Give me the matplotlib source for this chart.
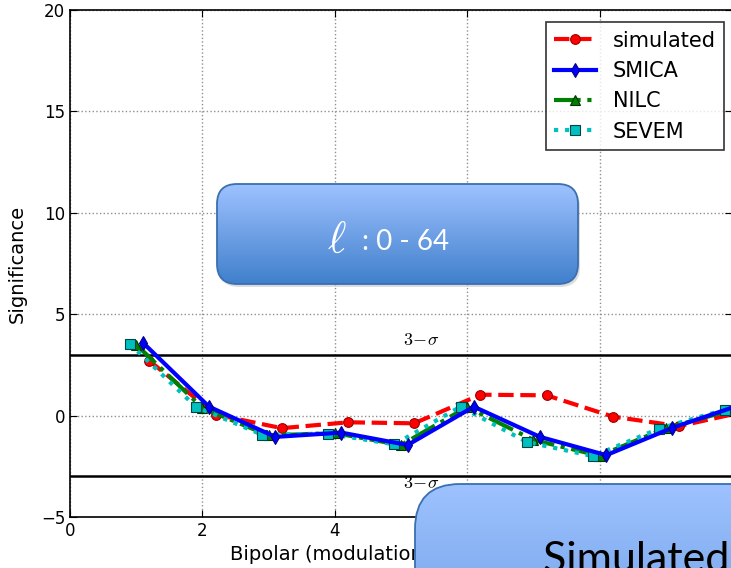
import numpy as np
import matplotlib
matplotlib.use('Agg')
import matplotlib.pyplot as plt
from matplotlib.patches import FancyBboxPatch

plt.rcParams['mathtext.fontset'] = 'cm'

# bipolar multipole L, each series is shifted a little so the markers don't overlap
L = [1, 2, 3, 4, 5, 6, 7, 8, 9, 10]
offsets = {'simulated': 0.2, 'SMICA': 0.1, 'NILC': 0.0, 'SEVEM': -0.1}

simulated = [2.7, 0.05, -0.62, -0.33, -0.38, 1.03, 1.0, -0.05, -0.52, 0.2]
smica = [3.6, 0.44, -1.05, -0.84, -1.45, 0.44, -1.05, -1.95, -0.6, 0.5]
nilc = [3.5, 0.38, -0.98, -0.86, -1.45, 0.42, -1.2, -1.98, -0.62, 0.28]
sevem = [3.55, 0.44, -0.94, -0.89, -1.42, 0.44, -1.3, -2.0, -0.64, 0.3]

sigma_level = 3

W, H = 731, 568
fig = plt.figure(figsize=(W / 100, H / 100), dpi=100)
fig.patch.set_facecolor('white')

# axes runs slightly past the right edge of the picture (cropped screenshot)
ax = fig.add_axes([70 / W, 51 / H, 662 / W, 507 / H])

x = np.array(L, dtype=float)
ax.plot(x + offsets['simulated'], simulated, 'r--o', lw=3, ms=7, mec='#990000', mew=0.8,
        label='simulated', zorder=3)
ax.plot(x + offsets['SMICA'], smica, 'b-d', lw=3, ms=7, mec='#000080', mew=0.8,
        label='SMICA', zorder=4)
ax.plot(x + offsets['NILC'], nilc, '-.^', color='green', lw=3, ms=7, mec='#003300', mew=0.8,
        label='NILC', zorder=3)
ax.plot(x + offsets['SEVEM'], sevem, ':s', color='c', lw=3, ms=7, mec='#004444', mew=0.8,
        label='SEVEM', zorder=3)

ax.axhline(sigma_level, color='black', lw=1.8, zorder=2)
ax.axhline(-sigma_level, color='black', lw=1.8, zorder=2)
ax.text(5.3, sigma_level + 0.3, r'$3\!-\!\sigma$', fontsize=13, ha='center', va='bottom')
ax.text(5.3, -sigma_level + 0.1, r'$3\!-\!\sigma$', fontsize=13, ha='center', va='top')

ax.set_xlim(0, 10)
ax.set_ylim(-5, 20)
ax.set_xticks([0, 2, 4, 6, 8, 10])
ax.set_yticks([-5, 0, 5, 10, 15, 20])
ax.tick_params(direction='in', top=True, right=True, labelsize=12, length=5)
ax.grid(True, ls=':', color='#909090', lw=1)
for s in ax.spines.values():
    s.set_linewidth(1.2)

ax.set_ylabel('Significance', fontsize=14)
ax.yaxis.set_label_coords(-0.066, 0.5)
ax.set_xlabel('Bipolar (modulation) multipole, L', fontsize=14, ha='left')
ax.xaxis.set_label_coords(160 / 662, -0.056)
ax.xaxis.label.set_va('top')

leg = ax.legend(loc='upper right', bbox_to_anchor=(0.988, 0.976), fontsize=15,
                handlelength=2, fancybox=False, borderpad=0.4, labelspacing=0.5,
                handletextpad=0.8, borderaxespad=0)
leg.get_frame().set_edgecolor('black')
leg.get_frame().set_linewidth(1.2)

# overlay boxes on top of the chart (slide annotations)
ov = fig.add_axes([0, 0, 1, 1], zorder=10)
ov.set_xlim(0, W)
ov.set_ylim(H, 0)
ov.axis('off')
ov.patch.set_alpha(0)

top_col = np.array([0.62, 0.76, 1.0])
bot_col = np.array([0.25, 0.50, 0.80])


def gradient_box(x0, y0, w, h, pad, grad_h=None):
    if grad_h is None:
        grad_h = h
    shadow = FancyBboxPatch((x0 + 2, y0 + 3), w, h, boxstyle=f'round,pad=0,rounding_size={pad}',
                            fc='#bbbbbb', ec='none', alpha=0.5)
    ov.add_patch(shadow)
    box = FancyBboxPatch((x0, y0), w, h, boxstyle=f'round,pad=0,rounding_size={pad}',
                         fc='none', ec='#3a6fb0', lw=1.3, zorder=3)
    ov.add_patch(box)
    t = np.linspace(0, 1, 256)[:, None]
    grad = top_col[None, None, :] * (1 - t[..., None]) + bot_col[None, None, :] * t[..., None]
    grad = np.repeat(grad, 2, axis=1)
    im = ov.imshow(grad, extent=(x0, x0 + w, y0 + grad_h, y0), aspect='auto', zorder=2)
    im.set_clip_path(box)
    ov.set_xlim(0, W)
    ov.set_ylim(H, 0)


gradient_box(217, 184, 361, 100, 20)
ov.text(337, 240, r'$\ell$', fontsize=32, color='white', ha='center', va='center')
ov.text(362, 242, ': 0 - 64', fontsize=20, color='white', ha='left', va='center',
        family='Lato')

gradient_box(415, 484, 420, 200, 45, grad_h=320)
ov.text(543, 572, 'Simulated data', fontsize=31, color='black', ha='left', va='baseline',
        family='Lato')

fig.savefig('out.png', dpi=100)
